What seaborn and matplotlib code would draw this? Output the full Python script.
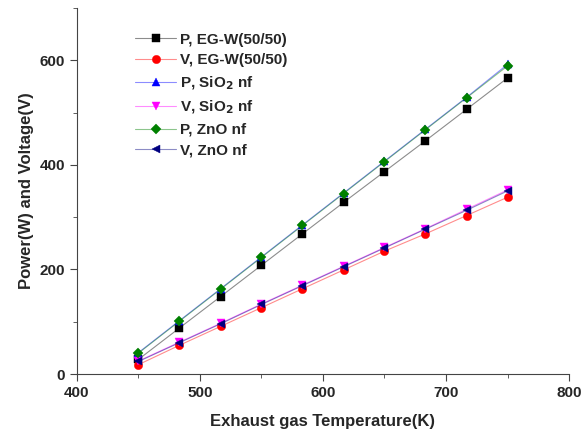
import pandas as pd
import matplotlib
matplotlib.use("Agg")
import matplotlib.pyplot as plt
from matplotlib.ticker import MultipleLocator
from matplotlib.colors import to_rgba
import seaborn as sns

temps = [450, 483.3, 516.7, 550, 583.3, 616.7, 650, 683.3, 716.7, 750]
p_egw = [28, 88, 148, 208, 268, 328, 387, 446, 506, 566]
v_egw = [18, 55, 91, 127, 163, 199, 235, 268, 303, 338]
p_sio2 = [41, 102, 163, 224, 285, 346, 407, 468, 529, 592]
v_sio2 = [25, 61, 97, 134, 170, 206, 242, 278, 315, 352]
p_zno = [40, 101, 162, 223, 284, 345, 406, 467, 528, 589]
v_zno = [24, 60, 96, 133, 169, 205, 241, 277, 313, 350]

labels = ["P, EG-W(50/50)", "V, EG-W(50/50)", "P, SiO$_2$ nf",
          "V, SiO$_2$ nf", "P, ZnO nf", "V, ZnO nf"]
series = [p_egw, v_egw, p_sio2, v_sio2, p_zno, v_zno]
colors = ["black", "red", "blue", "magenta", "green", "navy"]
markers = ["s", "o", "^", "v", "D", "<"]

rows = []
for lab, vals in zip(labels, series):
    for t, v in zip(temps, vals):
        rows.append({"T": t, "val": v, "series": lab})
df = pd.DataFrame(rows)

sns.set_style("ticks")
plt.rcParams["font.family"] = ["Liberation Sans", "DejaVu Sans"]
plt.rcParams["font.weight"] = "bold"

fig = plt.figure(figsize=(5.83, 4.38), dpi=100)
ax = fig.add_axes([0.132, 0.146, 0.844, 0.836])

sns.lineplot(data=df, x="T", y="val", hue="series", style="series",
             hue_order=labels, style_order=labels,
             palette=dict(zip(labels, colors)),
             markers=dict(zip(labels, markers)), dashes=False,
             markersize=6, linewidth=0.8, markeredgewidth=0.3,
             ax=ax, legend=False)

# thin, washed-out connecting lines with solid markers
for line, c, m in zip(ax.lines, colors, markers):
    line.set_color(to_rgba(c, 0.45))
    line.set_markerfacecolor(c)
    line.set_markeredgecolor(c)
    if m == "D":
        line.set_markersize(5)

ax.set_xlim(400, 800)
ax.set_ylim(0, 700)
ax.set_yticks([0, 200, 400, 600])
ax.set_xticks([400, 500, 600, 700, 800])
ax.xaxis.set_minor_locator(MultipleLocator(50))
ax.yaxis.set_minor_locator(MultipleLocator(100))
ax.tick_params(which="both", direction="out", labelsize=11, color="#444444")
ax.tick_params(which="major", length=5)
ax.tick_params(which="minor", length=3)
for lab in ax.get_xticklabels() + ax.get_yticklabels():
    lab.set_fontweight("bold")
sns.despine(ax=ax)
for s in ["left", "bottom"]:
    ax.spines[s].set_color("#444444")

ax.set_xlabel("Exhaust gas Temperature(K)", fontsize=12, fontweight="bold", labelpad=10)
ax.set_ylabel("Power(W) and Voltage(V)", fontsize=12, fontweight="bold")

leg = ax.legend(ax.lines, labels, loc="upper left", bbox_to_anchor=(0.09, 0.97),
                frameon=False, fontsize=11, handlelength=2.7, labelspacing=0.45,
                handletextpad=0.25)
for t in leg.get_texts():
    t.set_fontweight("bold")

fig.savefig("out.png", dpi=100)
